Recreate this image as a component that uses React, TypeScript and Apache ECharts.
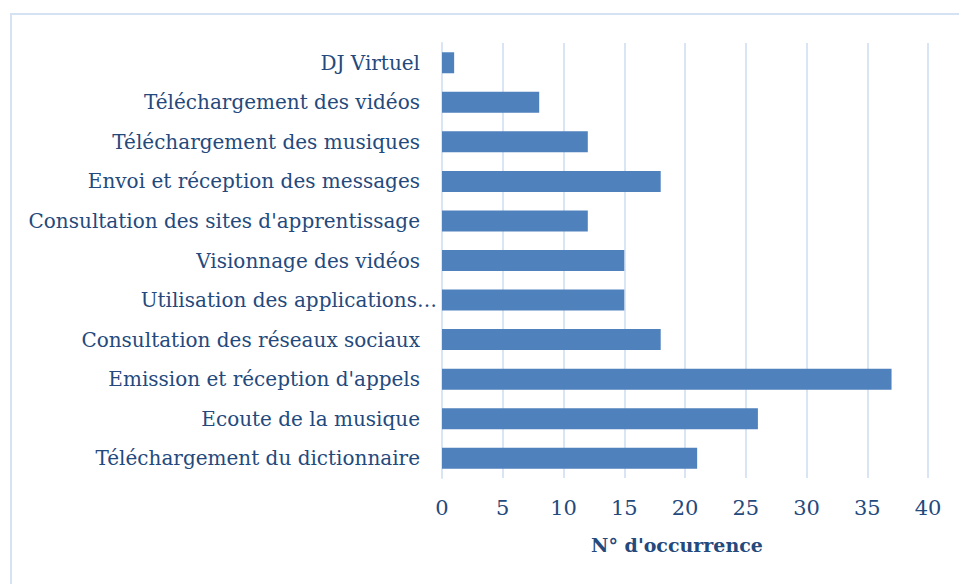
import React, { useEffect, useRef } from "react";
import * as echarts from "echarts";

const categories = [
  "Téléchargement du dictionnaire",
  "Ecoute de la musique",
  "Emission et réception d'appels",
  "Consultation des réseaux sociaux",
  "Utilisation des applications…",
  "Visionnage des vidéos",
  "Consultation des sites d'apprentissage",
  "Envoi et réception des messages",
  "Téléchargement des musiques",
  "Téléchargement des vidéos",
  "DJ Virtuel",
];
const occurrences = [21, 26, 37, 18, 15, 15, 12, 18, 12, 8, 1];
const xAxisName = "N° d'occurrence";

const FONT = "'DejaVu Serif', 'Liberation Serif', serif";
const TEXT = "#24497c";
const GRID = "#d9e5f4";

export default function App() {
  const ref = useRef<HTMLDivElement>(null);
  useEffect(() => {
    const chart = echarts.init(ref.current!, undefined, { renderer: "svg" });
    chart.setOption({
      animation: false,
      backgroundColor: "#ffffff",
      graphic: [
        {
          type: "rect",
          shape: { x: 11, y: 14, width: 960, height: 590 },
          style: { fill: "none", stroke: "#d5e2f3", lineWidth: 2 },
          silent: true,
        },
      ],
      grid: { left: 442, right: 31, top: 43, bottom: 106, containLabel: false },
      xAxis: {
        type: "value",
        min: 0,
        max: 40,
        interval: 5,
        name: xAxisName,
        nameLocation: "middle",
        nameGap: 57,
        nameTextStyle: {
          fontFamily: FONT,
          fontSize: 19,
          fontWeight: "bold",
          color: TEXT,
          padding: [0, 16, 0, 0],
        },
        axisLine: { show: false },
        axisTick: { show: false },
        axisLabel: { fontFamily: FONT, fontSize: 21, color: TEXT, margin: 19 },
        splitLine: { show: true, lineStyle: { color: GRID, width: 2 } },
      },
      yAxis: {
        type: "category",
        data: categories,
        axisLine: { show: true, lineStyle: { color: GRID, width: 2 } },
        axisTick: { show: false },
        axisLabel: {
          margin: 5,
          fontFamily: FONT,
          fontSize: 20,
          color: TEXT,
          formatter: (v: string) =>
            v.endsWith("…") ? `{e|${v}}` : `{n|${v}}`,
          rich: {
            n: { fontFamily: FONT, fontSize: 20, color: TEXT, padding: [0, 17, 0, 0] },
            e: { fontFamily: FONT, fontSize: 20, color: TEXT, padding: [0, 0, 0, 0] },
          },
        },
      },
      series: [
        {
          type: "bar",
          data: occurrences,
          barWidth: 21,
          itemStyle: { color: "#4f81bd" },
        },
      ],
    });
    return () => chart.dispose();
  }, []);
  return (
    <div
      ref={ref}
      style={{ position: "fixed", left: 0, top: 0, width: 959, height: 584 }}
    />
  );
}
